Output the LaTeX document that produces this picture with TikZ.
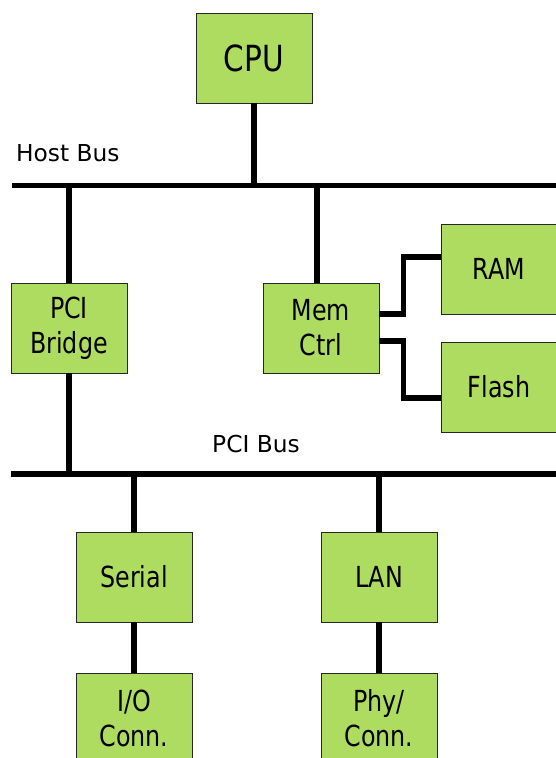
\documentclass[tikz,border=0pt]{standalone}
\usepackage{fontspec}
\setmainfont{DejaVu Sans}
\newfontfamily\boxfont{DejaVu Sans}[FakeStretch=0.82]
\begin{document}
\begin{tikzpicture}[x=1pt,y=-1pt,
  blk/.style={draw=black!85,line width=0.9pt,fill=boxgreen,minimum width=116pt,minimum height=90pt,inner sep=0pt,align=center,font=\boxfont\fontsize{29}{35}\selectfont},
  wire/.style={line width=5.5pt,line join=miter},
  buslbl/.style={anchor=base west,inner sep=0pt,font=\fontsize{23.3}{28}\selectfont}]
\definecolor{boxgreen}{RGB}{174,220,96}
\useasboundingbox (0,0) rectangle (555,758);
\fill[white] (0,0) rectangle (555,758);
% buses
\coordinate (hb1) at (12,185.5);
\coordinate (hb2) at (556,185.5);
\coordinate (pb1) at (11,474);
\coordinate (pb2) at (556,474);
\draw[wire] (hb1) -- (hb2);
\draw[wire] (pb1) -- (pb2);
\node[buslbl] (hostlbl) at (16,161) {Host Bus};
\node[buslbl] (pcilbl) at (212,452) {PCI Bus};
% boxes
\node[blk,font=\boxfont\fontsize{36}{40}\selectfont] (cpu) at (254,58) {CPU};
\node[blk] (bridge) at (69,328) {PCI\\Bridge};
\node[blk] (memctrl) at (321,328) {Mem\\Ctrl};
\node[blk] (ram) at (499,269) {RAM};
\node[blk] (flash) at (499,387) {Flash};
\node[blk] (serial) at (134,577) {Serial};
\node[blk] (lan) at (379,577) {LAN};
\node[blk] (ioconn) at (134,718) {I/O\\Conn.};
\node[blk] (phy) at (379,718) {Phy/\\Conn.};
% connectors
\draw[wire] (cpu.south) -- (cpu.south |- hb1);
\draw[wire] (bridge.north) -- (bridge.north |- hb1);
\draw[wire] (bridge.south) -- (bridge.south |- pb1);
\draw[wire] ([xshift=-4pt]memctrl.north) -- ([xshift=-4pt]memctrl.north |- hb1);
\draw[wire] (serial.north) -- (serial.north |- pb1);
\draw[wire] (lan.north) -- (lan.north |- pb1);
\draw[wire] (serial.south) -- (ioconn.north);
\draw[wire] (lan.south) -- (phy.north);
\draw[wire] ([yshift=14pt]memctrl.east) -- ++(24,0) |- ([yshift=12pt]ram.west);
\draw[wire] ([yshift=-13pt]memctrl.east) -- ++(24,0) |- ([yshift=-11pt]flash.west);
\end{tikzpicture}
\end{document}
